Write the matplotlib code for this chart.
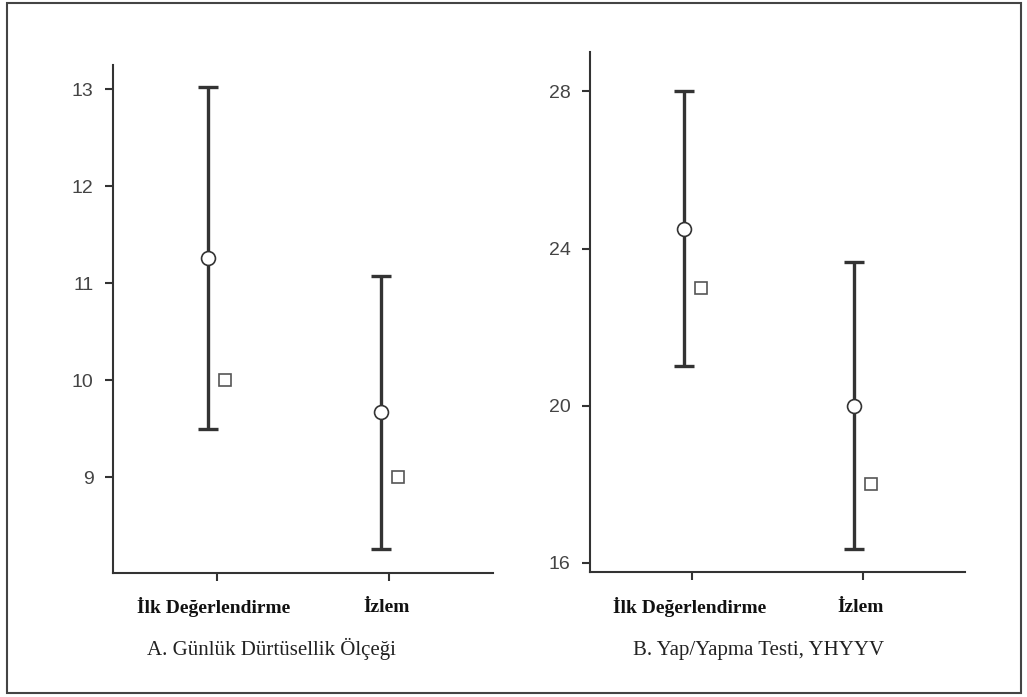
import matplotlib
matplotlib.use("Agg")
import matplotlib.pyplot as plt
from matplotlib.patches import Rectangle
from matplotlib.transforms import blended_transform_factory, offset_copy

categories = ["İlk Değerlendirme", "İzlem"]

# Panel A: Günlük Dürtüsellik Ölçeği
a_mean = [11.26, 9.67]
a_low = [9.50, 8.26]
a_high = [13.02, 11.07]
a_median = [10.0, 9.0]
a_ticks = [9, 10, 11, 12, 13]
a_title = "A. Günlük Dürtüsellik Ölçeği"

# Panel B: Yap/Yapma Testi, YHYYV
b_mean = [24.5, 20.0]
b_low = [21.0, 16.35]
b_high = [28.0, 23.65]
b_median = [23.0, 18.0]
b_ticks = [16, 20, 24, 28]
b_title = "B. Yap/Yapma Testi, YHYYV"

W, H = 1027, 697
fig = plt.figure(figsize=(W / 100, H / 100), dpi=100)

dark = "#333333"
off = 0.05


def panel(rect, mean, low, high, med, ticks, ylim, title, title_x, lab_dy, title_dy):
    ax = fig.add_axes(rect)
    x = list(range(len(categories)))
    xe = [v - off for v in x]
    xs = [v + off for v in x]
    yerr = [[m - l for m, l in zip(mean, low)], [h - m for m, h in zip(mean, high)]]
    ax.errorbar(xe, mean, yerr=yerr, fmt="none", ecolor=dark, elinewidth=2.4,
                capsize=7, capthick=2.4, zorder=2)
    ax.plot(xe, mean, "o", ms=10, mfc="white", mec=dark, mew=1.2, zorder=3, ls="none")
    ax.plot(xs, med, "s", ms=9, mfc="white", mec="#555555", mew=1.2, zorder=3, ls="none")
    ax.set_xlim(-0.6, 1.6)
    ax.set_ylim(*ylim)
    ax.set_yticks(ticks)
    ax.set_yticklabels([str(t) for t in ticks], fontfamily="Liberation Sans",
                       fontsize=14, color="#444444")
    ax.set_xticks(x)
    ax.set_xticklabels([])
    ax.tick_params(axis="y", length=6, width=1.5, color=dark, pad=8)
    ax.tick_params(axis="x", length=6, width=1.5, color=dark)
    for s in ["top", "right"]:
        ax.spines[s].set_visible(False)
    for s in ["left", "bottom"]:
        ax.spines[s].set_color(dark)
        ax.spines[s].set_linewidth(1.5)
    tr = blended_transform_factory(ax.transData, ax.transAxes)
    tr_lab = offset_copy(tr, fig=fig, x=0, y=-lab_dy * 72 / 100, units="points")
    for xi, lab in zip(x, categories):
        ax.text(xi - 0.015, 0, lab, transform=tr_lab, ha="center", va="center",
                fontfamily="Liberation Serif", fontweight="bold", fontsize=14,
                color="#111111")
    tr_t = offset_copy(blended_transform_factory(fig.transFigure, ax.transAxes),
                       fig=fig, x=0, y=-title_dy * 72 / 100, units="points")
    ax.text(title_x / W, 0, title, transform=tr_t, ha="center", va="center",
            fontfamily="Liberation Serif", fontsize=15, color="#222222")
    return ax


panel([113 / W, 1 - 573 / H, 380 / W, 508 / H], a_mean, a_low, a_high, a_median,
      a_ticks, (8.01, 13.25), a_title, 271, 34, 76)
panel([590 / W, 1 - 572 / H, 375 / W, 520 / H], b_mean, b_low, b_high, b_median,
      b_ticks, (15.77, 29.0), b_title, 759, 35, 78)

fig.patches.append(Rectangle((7 / W, 1 - 693 / H), 1014 / W, 690 / H,
                             transform=fig.transFigure, fill=False,
                             edgecolor="#444444", linewidth=1.5))

fig.savefig("out.png", dpi=100, facecolor="white")
